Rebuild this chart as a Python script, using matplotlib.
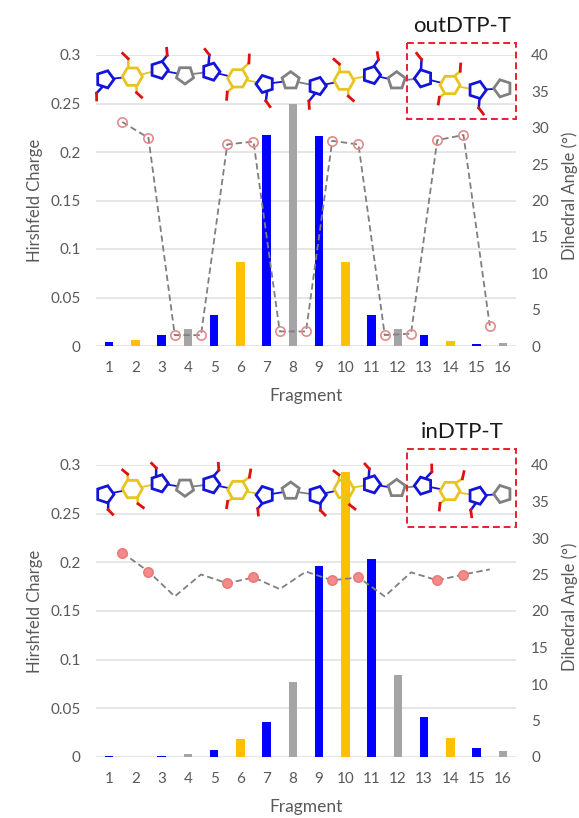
import numpy as np
import matplotlib
matplotlib.use('Agg')
import matplotlib.pyplot as plt
from matplotlib.patches import Rectangle

plt.rcParams['font.family'] = ['Lato', 'DejaVu Sans']

W, H = 579, 818
fragments = list(range(1, 17))
bar_colors = ['#0000ff', '#ffc000', '#0000ff', '#a5a5a5'] * 4

out_charge = [0.004, 0.006, 0.011, 0.018, 0.032, 0.087, 0.218, 0.25,
              0.217, 0.087, 0.032, 0.018, 0.011, 0.005, 0.002, 0.003]
in_charge = [0.001, 0.0005, 0.001, 0.003, 0.007, 0.018, 0.036, 0.077,
             0.196, 0.293, 0.203, 0.084, 0.041, 0.02, 0.009, 0.006]

# dihedral angles sit between two neighbouring fragments
angle_x = [1.5 + i for i in range(15)]
out_angle = [30.8, 28.6, 1.5, 1.5, 27.7, 28.1, 2.0, 2.0,
             28.2, 27.7, 1.5, 1.7, 28.3, 29.0, 2.8]
in_angle = [28.0, 25.4, 22.0, 25.0, 23.8, 24.6, 23.0, 25.4,
            24.2, 24.6, 22.0, 25.3, 24.2, 25.0, 25.7]
out_marked = list(range(15))
in_marked = [0, 1, 4, 5, 8, 9, 12, 13]

charge_ticks = [0, 0.05, 0.1, 0.15, 0.2, 0.25, 0.3]
charge_labels = ['0', '0.05', '0.1', '0.15', '0.2', '0.25', '0.3']
angle_ticks = [0, 5, 10, 15, 20, 25, 30, 35, 40]

# molecule sketches, zoomed crop coordinates of the ring centres
ring_x = [105, 187, 268, 345, 423, 503, 585, 662, 742, 822, 905, 980, 1060, 1140, 1222, 1298]
out_ring_y = [208, 200, 180, 195, 185, 205, 222, 212, 228, 212, 195, 212, 205, 225, 240, 235]
in_ring_y = [238, 222, 205, 217, 208, 225, 240, 228, 240, 222, 208, 220, 212, 228, 242, 237]
ring_rot = [0, 0, 0, 90, 0, 0, 180, -90, 0, 0, 0, -90, 180, 0, 0, 180]
out_tails = {0: [(80, 270)], 1: [(158, 130), (215, 262)], 2: [(290, 115)], 4: [(405, 118)],
             5: [(470, 268), (538, 135)], 6: [(600, 290)], 8: [(718, 295)],
             9: [(792, 148), (850, 272)], 10: [(922, 128)], 12: [(1040, 130)],
             13: [(1172, 162), (1105, 282)], 14: [(1240, 312)]}
in_tails = {0: [(128, 298)], 1: [(158, 165), (220, 278)], 2: [(245, 145)], 4: [(445, 145)],
            5: [(542, 165), (470, 278)], 6: [(565, 300)], 8: [(765, 300)],
            9: [(792, 168), (855, 282)], 10: [(885, 147)], 12: [(1085, 150)],
            13: [(1182, 170), (1108, 285)], 14: [(1205, 305)]}
ring_colors = ['#1414d8', '#e8c420', '#1414d8', '#808080'] * 4
grey_text = '#595959'

fig = plt.figure(figsize=(W / 100, H / 100), dpi=100)
overlay = fig.add_axes([0, 0, 1, 1], zorder=5)
overlay.set_xlim(0, W)
overlay.set_ylim(H, 0)
overlay.axis('off')


def ring_size(i):
    return (6, 10.0) if i % 4 == 1 else (5, 9.0)


def draw_panel(y_top, y_zero, charge, angle, marked, face, edge, name, name_y,
               ring_y, tails, y_off, box):
    ax = fig.add_axes([96 / W, 1 - y_zero / H, 420 / W, (y_zero - y_top) / H])
    ax.bar(fragments, charge, width=0.33, color=bar_colors, zorder=2)
    ax.set_xlim(0.5, 16.5)
    ax.set_ylim(0, 0.3)
    ax.set_yticks(charge_ticks)
    ax.set_yticklabels(charge_labels)
    ax.set_xticks(fragments)
    ax.grid(axis='y', color='#e2e2e2', lw=1.2, zorder=0)
    ax.set_axisbelow(True)
    for s in ax.spines.values():
        s.set_visible(False)
    ax.tick_params(length=0, labelsize=11, labelcolor=grey_text, pad=11)

    ax2 = ax.twinx()
    ax2.plot(angle_x, angle, color='#7f7f7f', lw=1.3, dashes=(3.5, 2), zorder=3)
    ax2.plot([angle_x[i] for i in marked], [angle[i] for i in marked], ls='none', marker='o',
             ms=6.7, mfc=face, mec=edge, mew=1.2, zorder=4)
    ax2.set_ylim(0, 40)
    ax2.set_yticks(angle_ticks)
    for s in ax2.spines.values():
        s.set_visible(False)
    ax2.tick_params(length=0, labelsize=11, labelcolor=grey_text, pad=11)

    # axis titles placed by hand, they do not sit centred in the original
    overlay.text(306, y_zero + 50, 'Fragment', fontsize=12.5, color=grey_text, ha='center', va='center')
    overlay.text(35, (y_top + y_zero) / 2, 'Hirshfeld Charge', fontsize=12, color=grey_text,
                 rotation=90, ha='center', va='center')
    overlay.text(570, y_zero - 150, 'Dihedral Angle (°)', fontsize=12, color=grey_text,
                 rotation=90, ha='center', va='center')

    xs = [70 + v / 3 for v in ring_x]
    ys = [y_off + v / 3 for v in ring_y]
    for i in range(15):
        dx, dy = xs[i + 1] - xs[i], ys[i + 1] - ys[i]
        d = np.hypot(dx, dy)
        r0, r1 = ring_size(i)[1], ring_size(i + 1)[1]
        overlay.plot([xs[i] + r0 * dx / d, xs[i + 1] - r1 * dx / d],
                     [ys[i] + r0 * dy / d, ys[i + 1] - r1 * dy / d],
                     color=ring_colors[i], lw=1.3, zorder=1)
    for i in range(16):
        n, r = ring_size(i)
        t = np.radians(ring_rot[i]) + 2 * np.pi * np.arange(n + 1) / n
        overlay.fill(xs[i] + r * np.cos(t), ys[i] + r * np.sin(t), fc='none', ec=ring_colors[i],
                     lw=2, zorder=2)
        for tx, ty in tails.get(i, []):
            ex, ey = 70 + tx / 3, y_off + ty / 3
            dx, dy = ex - xs[i], ey - ys[i]
            d = np.hypot(dx, dy)
            sx, sy = xs[i] + r * dx / d, ys[i] + r * dy / d
            mx, my = xs[i] + 0.72 * dx - 0.12 * dy, ys[i] + 0.72 * dy + 0.12 * dx
            overlay.plot([sx, mx], [sy, my], color=ring_colors[i], lw=1.8, zorder=1.5)
            overlay.plot([mx, ex], [my, ey], color='#e01010', lw=2, zorder=1.5)

    overlay.add_patch(Rectangle((box[0], box[1]), box[2], box[3], fill=False, ec='#e8202c',
                                lw=1.4, ls=(0, (3.5, 2)), zorder=3))
    overlay.text(462, name_y, name, fontsize=16, color='#1a1a1a', ha='center', va='center')


draw_panel(55, 346, out_charge, out_angle, out_marked, 'none', '#e58a8a', 'outDTP-T', 26,
           out_ring_y, out_tails, 10, (407, 43, 109, 76))
draw_panel(465, 757, in_charge, in_angle, in_marked, '#f48a8a', '#ec7a7a', 'inDTP-T', 432,
           in_ring_y, in_tails, 415, (407, 449, 109, 78))

fig.savefig('out.png', dpi=100)
